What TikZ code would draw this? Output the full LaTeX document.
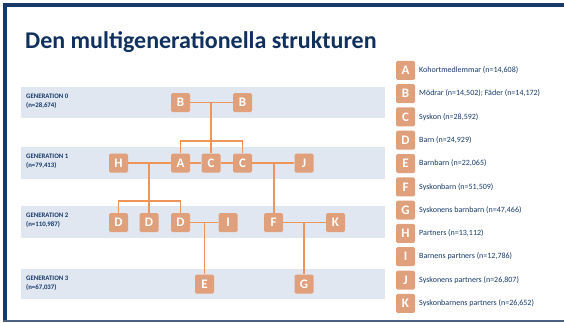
\documentclass[tikz,border=0pt]{standalone}
\usepackage{fontspec}
\setmainfont{Carlito}
\definecolor{navy}{HTML}{173A6B}
\definecolor{titlec}{HTML}{10305E}
\definecolor{band}{HTML}{E1E7F0}
\definecolor{boxc}{HTML}{E0A07C}
\definecolor{linec}{HTML}{F0955A}
\definecolor{botc}{HTML}{4D6282}
\begin{document}
\begin{tikzpicture}[x=1pt,y=-1pt,
  lb/.style={fill=boxc,rounded corners=1.5pt,minimum width=19pt,minimum height=19pt,inner sep=0pt,text=white,font=\bfseries\fontsize{13}{13}\selectfont},
  gb/.style={lb},
  conn/.style={draw=linec,line width=1.3pt},
  genlab/.style={anchor=west,align=left,text=navy,font=\bfseries\fontsize{6.8}{9}\selectfont,inner sep=0pt},
  legt/.style={anchor=west,text=navy,font=\fontsize{8}{9}\selectfont,inner sep=0pt}]
\useasboundingbox (0,0) rectangle (564,322);
\fill[white] (0,0) rectangle (564,322);
% frame
\fill[navy] (3,3) rectangle (564,6.5);
\fill[navy] (2.8,3) rectangle (6.7,322);
\fill[botc] (2.8,319.5) rectangle (564,322);
% title
\node[anchor=base west,inner sep=0pt,text=titlec,font=\bfseries\fontsize{24}{24}\selectfont] (title) at (25,48) {Den multigenerationella strukturen};
% bands
\fill[band] (21,87) rectangle (385,118);
\fill[band] (21,147) rectangle (385,179);
\fill[band] (21,206) rectangle (385,238);
\fill[band] (21,269) rectangle (385,299);
\node[genlab] (g0) at (26,101.5) {GENERATION 0\\(n=28,674)};
\node[genlab] (g1) at (26,161) {GENERATION 1\\(n=79,413)};
\node[genlab] (g2) at (26,220.5) {GENERATION 2\\(n=110,987)};
\node[genlab] (g3) at (26,283.5) {GENERATION 3\\(n=67,037)};
% tree nodes
\node[gb] (B1) at (180.5,102.5) {B};
\node[gb] (B2) at (242.5,102.5) {B};
\node[gb] (H) at (118.5,163) {H};
\node[gb] (A) at (180.5,163) {A};
\node[gb] (C1) at (211,163) {C};
\node[gb] (C2) at (242.5,163) {C};
\node[gb] (J) at (304,163) {J};
\node[gb] (D1) at (118.5,222.5) {D};
\node[gb] (D2) at (149,222.5) {D};
\node[gb] (D3) at (180.5,222.5) {D};
\node[gb] (I) at (228,222.5) {I};
\node[gb] (F) at (273.5,222.5) {F};
\node[gb] (K) at (335.5,222.5) {K};
\node[gb] (E) at (204.5,284) {E};
\node[gb] (G) at (304,284) {G};
\coordinate (jA) at (180.5,141);
\coordinate (jC) at (242.5,141);
\coordinate (jH) at (149,163);
\coordinate (jD1) at (118.5,201);
\coordinate (jD3) at (180.5,201);
\coordinate (jJ) at (274,163);
\coordinate (jI) at (204.5,222.5);
\coordinate (jK) at (304,222.5);
% connectors
\draw[conn] (B1) -- (B2);
\draw[conn] (C1.north) -- (C1.north |- B1.center);
\draw[conn] (A) -- (jA) -- (jC) -- (C2);
\draw[conn] (H) -- (A);
\draw[conn] (A) -- (C1);
\draw[conn] (C1) -- (C2);
\draw[conn] (C2) -- (J);
\draw[conn] (jH) -- (D2);
\draw[conn] (D1) -- (jD1) -- (jD3) -- (D3);
\draw[conn] (jJ) -- (jJ |- F.north);
\draw[conn] (D3) -- (I);
\draw[conn] (jI) -- (E);
\draw[conn] (F) -- (K);
\draw[conn] (jK) -- (G);
% legend
\foreach \L/\T [count=\i from 0] in {A/Kohortmedlemmar (n=14{,}608),B/Mödrar (n=14{,}502); Fäder (n=14{,}172),C/Syskon (n=28{,}592),D/Barn (n=24{,}929),E/Barnbarn (n=22{,}065),F/Syskonbarn (n=51{,}509),G/Syskonens barnbarn (n=47{,}466),H/Partners (n=13{,}112),I/Barnens partners (n=12{,}786),J/Syskonens partners (n=26{,}807),K/Syskonbarnens partners (n=26{,}652)}{
  \node[lb] (L\L) at (405.5,70.3+23.3*\i) {\L};
  \node[legt] (T\L) at (419,70.3+23.3*\i) {\T};
}
\end{tikzpicture}
\end{document}
